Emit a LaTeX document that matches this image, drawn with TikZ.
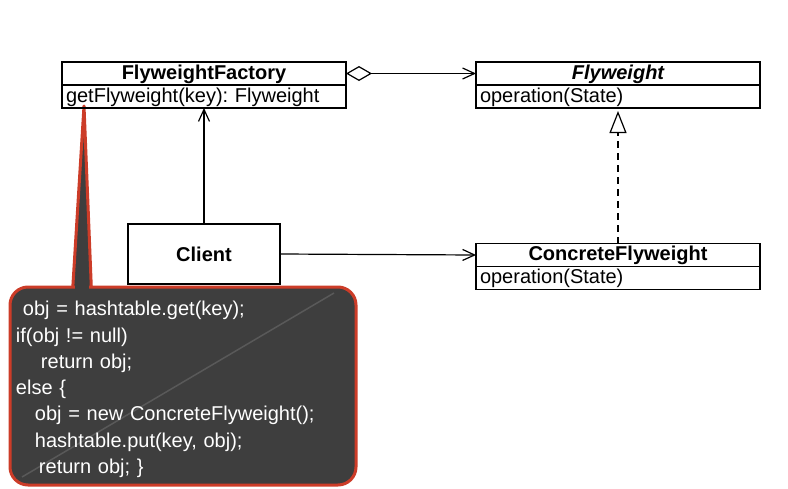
\documentclass[tikz,border=0pt]{standalone}
\usepackage{fontspec}
\setmainfont{Liberation Sans}
\usetikzlibrary{arrows.meta,positioning,backgrounds}

\definecolor{notefill}{RGB}{62,62,62}
\definecolor{notered}{RGB}{204,60,40}

\tikzset{
  classname/.style={draw,line width=1.6pt,outer sep=0pt,inner sep=0pt,
    minimum width=284pt,minimum height=23pt,text height=15pt,text depth=4pt,
    font=\fontsize{20}{23}\selectfont\bfseries},
  classops/.style={draw,line width=1.6pt,outer sep=0pt,inner xsep=4pt,inner ysep=0pt,
    minimum height=23pt,text width=276pt,align=left,text height=15pt,text depth=4pt,
    font=\fontsize{20}{23}\selectfont},
  clientbox/.style={draw,line width=1.6pt,outer sep=0pt,
    minimum width=152pt,minimum height=60pt,font=\fontsize{20}{23}\selectfont\bfseries},
  codenote/.style={draw=notered,fill=notefill,line width=3pt,rounded corners=18pt,
    minimum width=346pt,minimum height=198pt},
  codetext/.style={inner sep=0pt,text width=334pt,align=left,text=white,
    font=\fontsize{20}{26.3}\selectfont},
  assoc/.style={line width=1.2pt,-{Straight Barb[length=12pt,width=11pt]}},
  aggregate/.style={line width=1.2pt,{Diamond[open,length=26pt,width=15pt]}-{Straight Barb[length=12pt,width=11pt]}},
  realize/.style={line width=1.2pt,dash pattern=on 7pt off 5pt,shorten >=3pt,
    -{Triangle[open,length=22pt,width=17pt]}}
}

\begin{document}
\frenchspacing
\begin{tikzpicture}[x=1pt,y=-1pt]
\useasboundingbox (0,0) rectangle (788,488);

% classes
\node[classname] (factory) at (204,73.5) {FlyweightFactory};
\node[classops] (factoryops) [below=0pt of factory] {getFlyweight(key): Flyweight};

\node[classname] (flyweight) at (618,73.5) {\itshape Flyweight};
\node[classops] (flyweightops) [below=0pt of flyweight] {operation(State)};

\node[classname] (concrete) at (618,255) {ConcreteFlyweight};
\node[classops] (concreteops) [below=0pt of concrete] {operation(State)};

\node[clientbox] (client) at (204,254) {Client};

% relations
\draw[aggregate] (factory.east) -- (flyweight.west);
\draw[assoc] (client.north) -- (factoryops.south);
\draw[assoc] (client.east) -- (concrete.west);
\draw[realize] (concrete.north) -- (flyweightops.south);

% note
\node[codenote] (note) at (183,386) {};
\coordinate (tip) at (84,106);
\begin{scope}[on background layer]
  \draw[draw=notered,fill=notefill,line width=3pt,line join=round]
    (tip) -- (91.5,292) -- (72.5,292) -- cycle;
\end{scope}
\fill[notefill] (75,282) rectangle (89,292);
\draw[white,opacity=0.14,line width=1.5pt] (22,477) -- (334,293);
\node[codetext] (notetext) at (183,389.5) {%
\hspace*{7pt}obj = hashtable.get(key);\\
if(obj != null)\\
\hspace*{25pt}return obj;\\
else \{\\
\hspace*{19pt}obj = new ConcreteFlyweight();\\
\hspace*{19pt}hashtable.put(key, obj);\\
\hspace*{23pt}return obj; \}};
\end{tikzpicture}
\end{document}
